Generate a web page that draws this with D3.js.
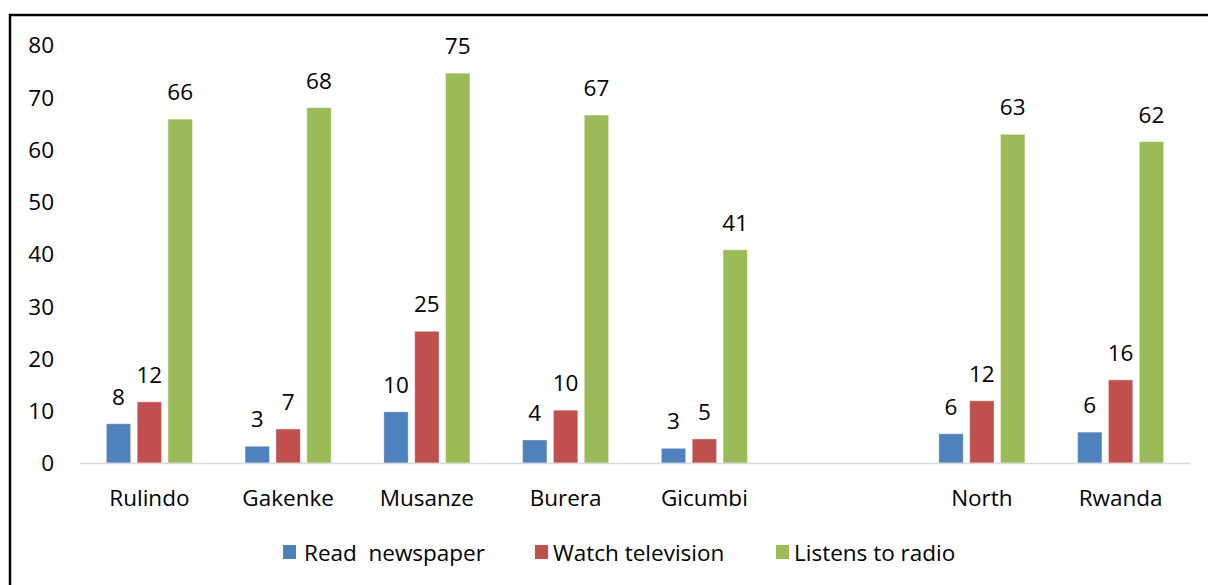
<!DOCTYPE html>
<html>
<head>
<meta charset="utf-8">
<script src="https://cdn.jsdelivr.net/npm/d3@7"></script>
<style>
  html, body { margin: 0; padding: 0; background: #fff; }
  svg { display: block; }
  text { font-family: "Open Sans", "Lato", sans-serif; fill: #000; white-space: pre; }
</style>
</head>
<body>
<svg id="chart" width="1208" height="585"></svg>
<script>
const categories = ["Rulindo", "Gakenke", "Musanze", "Burera", "Gicumbi", "", "North", "Rwanda"];
const seriesNames = ["Read  newspaper", "Watch television", "Listens to radio"];
const readNewspaper   = [7.5, 3.2, 9.8, 4.4, 2.8, null, 5.6, 5.9];
const watchTelevision = [11.7, 6.5, 25.2, 10.1, 4.6, null, 11.9, 15.9];
const listensToRadio  = [65.8, 68.0, 74.6, 66.6, 40.8, null, 62.9, 61.5];
const labelValues = [
  [8, 3, 10, 4, 3, null, 6, 6],
  [12, 7, 25, 10, 5, null, 12, 16],
  [66, 68, 75, 67, 41, null, 63, 62]
];
const yTicks = [0, 10, 20, 30, 40, 50, 60, 70, 80];
const colors = ["#4F81BD", "#C0504D", "#9BBB59"];

const seriesValues = [readNewspaper, watchTelevision, listensToRadio];
const svg = d3.select("#chart");
const FONT = "Open Sans";
const FS = 22.5;

// outer frame (right/bottom edges fall outside the picture)
svg.append("rect")
  .attr("x", 10).attr("y", 15)
  .attr("width", 1300).attr("height", 700)
  .attr("fill", "none").attr("stroke", "#000").attr("stroke-width", 2.5);

const plot = { left: 80, right: 1190, top: 45, bottom: 463 };

const x0 = d3.scaleBand()
  .domain(d3.range(categories.length))
  .range([plot.left, plot.right])
  .paddingInner(0.38).paddingOuter(0.19);

const x1 = d3.scaleBand()
  .domain(d3.range(seriesNames.length))
  .range([0, x0.bandwidth()])
  .paddingInner(0.212).paddingOuter(0);

const y = d3.scaleLinear().domain([0, 80]).range([plot.bottom, plot.top]);

// y tick labels (no axis line)
const yAxis = d3.axisLeft(y).tickValues(yTicks).tickSize(0).tickPadding(0).tickFormat(d3.format("d"));
const yg = svg.append("g").attr("transform", `translate(${plot.left - 26},0)`).call(yAxis);
yg.select(".domain").remove();
yg.selectAll("text").attr("font-size", FS).attr("font-family", FONT).attr("fill", "#000").attr("dy", "0.35em");

// bars
categories.forEach((cat, i) => {
  seriesValues.forEach((vals, s) => {
    const v = vals[i];
    if (v == null) return;
    const bx = x0(i) + x1(s);
    svg.append("rect")
      .attr("x", bx).attr("y", y(v))
      .attr("width", x1.bandwidth()).attr("height", y(0) - y(v))
      .attr("fill", colors[s])
      .attr("stroke", "#ffffff").attr("stroke-opacity", 0.35).attr("stroke-width", 1);
    svg.append("text")
      .attr("x", bx + x1.bandwidth() / 2)
      .attr("y", y(v) - 19)
      .attr("text-anchor", "middle")
      .attr("font-size", FS)
      .text(labelValues[s][i]);
  });
});

// x axis line
svg.append("line")
  .attr("x1", plot.left).attr("x2", plot.right)
  .attr("y1", y(0) + 0.5).attr("y2", y(0) + 0.5)
  .attr("stroke", "#D9D9D9").attr("stroke-width", 1.5);

// category labels
const xAxis = d3.axisBottom(x0).tickSize(0).tickPadding(0).tickFormat(i => categories[i]);
const xg = svg.append("g").attr("transform", `translate(0,${498})`).call(xAxis);
xg.select(".domain").remove();
xg.selectAll("text").attr("font-size", FS).attr("font-family", FONT).attr("fill", "#000").attr("dy", "0.35em");

// legend
const swatchX = [283, 535, 776];
const textX = [304, 553, 794];
const legend = svg.append("g");
seriesNames.forEach((name, s) => {
  legend.append("rect")
    .attr("x", swatchX[s]).attr("y", 545)
    .attr("width", 13).attr("height", 14)
    .attr("fill", colors[s]);
  legend.append("text")
    .attr("x", textX[s]).attr("y", 553)
    .attr("dy", "0.35em")
    .attr("font-size", FS)
    .text(name);
});
</script>
</body>
</html>
